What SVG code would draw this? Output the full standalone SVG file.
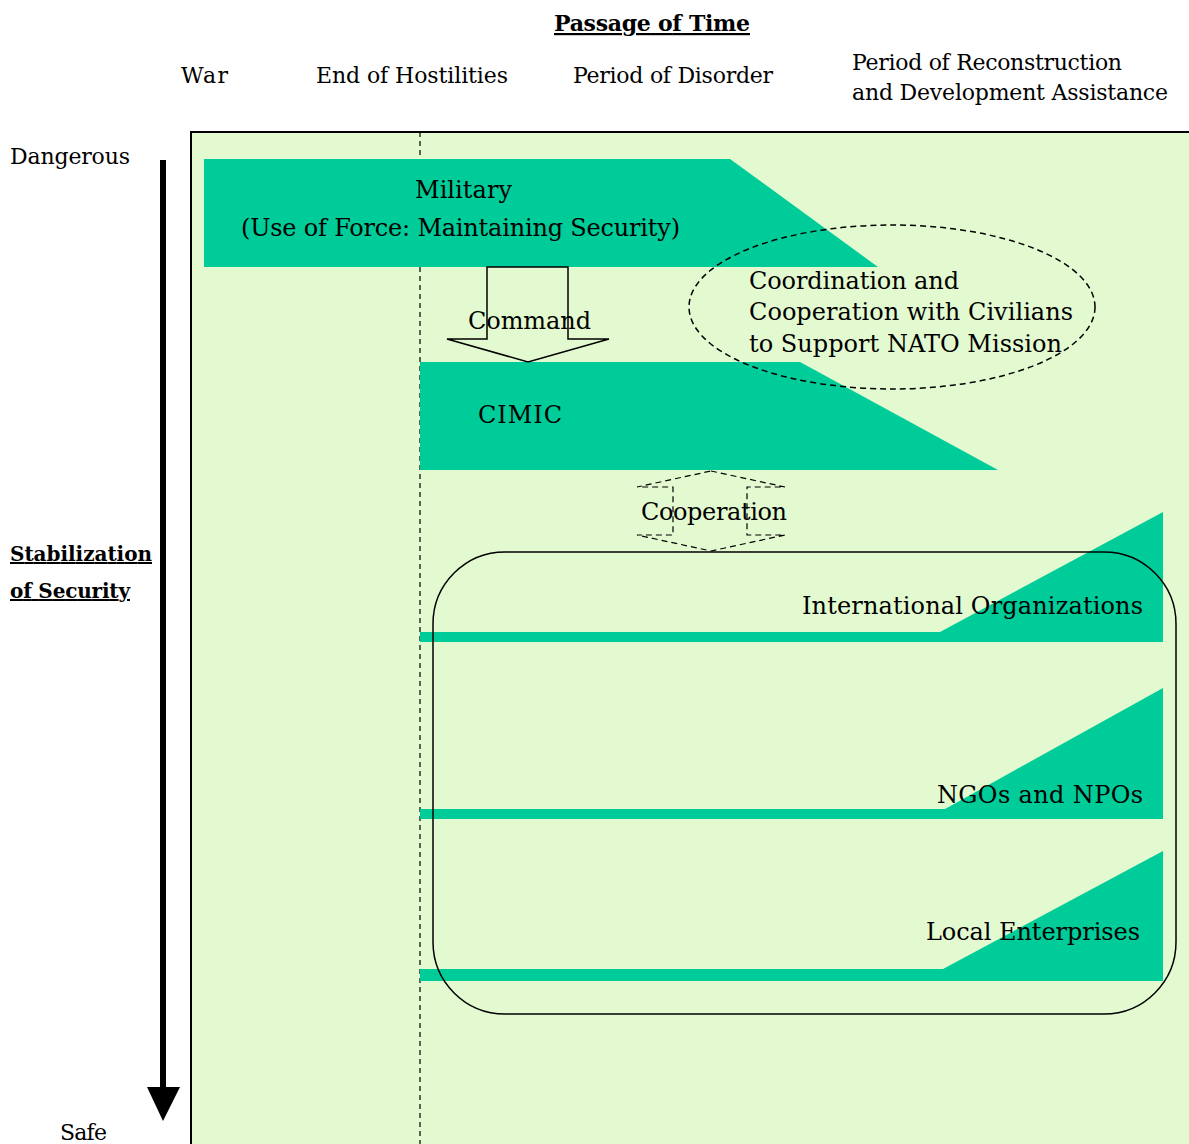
<svg xmlns="http://www.w3.org/2000/svg" width="1189" height="1144" viewBox="0 0 1189 1144">
<style>
text{font-family:"DejaVu Serif","Liberation Serif",serif;font-size:24px;fill:#000}
.h{font-size:22px}
.b{font-weight:bold;text-decoration:underline}
.g{fill:#00CC99}
.mid{text-anchor:middle}
.end{text-anchor:end}
</style>
<defs/>
<rect x="0" y="0" width="1189" height="1144" fill="#fff"/>
<g id="panel">
<rect x="191" y="132" width="1000" height="1014" fill="#E3FAD0" stroke="#000" stroke-width="2"/>
<line x1="420" y1="132" x2="420" y2="1144" stroke="#000" stroke-width="1.2" stroke-dasharray="5,4"/>
</g>
<g id="header">
<text x="652" y="31" class="h b mid" textLength="196">Passage of Time</text>
<text x="181" y="83" class="h" textLength="47">War</text>
<text x="316" y="83" class="h" textLength="192">End of Hostilities</text>
<text x="573" y="83" class="h" textLength="200">Period of Disorder</text>
<text x="852" y="70" class="h" textLength="270">Period of Reconstruction</text>
<text x="852" y="100" class="h" textLength="316">and Development Assistance</text>
</g>
<g id="axis">
<text x="10" y="164" class="h" textLength="120">Dangerous</text>
<line x1="163" y1="160" x2="163" y2="1090" stroke="#000" stroke-width="6"/>
<polygon points="147,1087 180,1087 163,1121" fill="#000"/>
<text x="10" y="561" class="h b" style="font-size:20px" textLength="142">Stabilization</text>
<text x="10" y="598" class="h b" style="font-size:20px" textLength="120">of Security</text>
<text x="60" y="1140" class="h" textLength="47">Safe</text>
</g>
<g id="military">
<polygon class="g" points="204,159 730,159 878,267 204,267"/>
<text x="415" y="198" textLength="97">Military</text>
<text x="241" y="236" textLength="439">(Use of Force: Maintaining Security)</text>
</g>
<g id="cimic">
<polygon class="g" points="420,362 800,362 998,470 420,470"/>
<text x="478" y="423" textLength="84">CIMIC</text>
</g>
<g id="coordination">
<ellipse cx="892" cy="307" rx="203" ry="82" fill="none" stroke="#000" stroke-width="1.5" stroke-dasharray="6,4"/>
<text x="749" y="289" textLength="210">Coordination and</text>
<text x="749" y="320" textLength="324">Cooperation with Civilians</text>
<text x="749" y="352" textLength="313">to Support NATO Mission</text>
</g>
<g id="international">
<polygon class="g" points="420,632 940,632 1163,512 1163,642 420,642"/>
<text x="802" y="614" textLength="341">International Organizations</text>
</g>
<g id="ngos">
<polygon class="g" points="420,809 945,809 1163,688 1163,819 420,819"/>
<text x="937" y="803" textLength="206">NGOs and NPOs</text>
</g>
<g id="local">
<polygon class="g" points="420,969 943,969 1163,851 1163,981 420,981"/>
<text x="926" y="940" textLength="214">Local Enterprises</text>
</g>
<g id="civil-group">
<rect x="433" y="552" width="743" height="462" rx="72" ry="72" fill="none" stroke="#000" stroke-width="1.5"/>
</g>
<g id="connectors">
<polygon points="487,267 568,267 568,339 609,339 528,362 447,339 487,339" fill="none" stroke="#000" stroke-width="1.5"/>
<text x="468" y="329" textLength="123">Command</text>
<polygon points="711,471 785,487 747,487 747,535 785,535 711,551 637,535 673,535 673,487 637,487" fill="none" stroke="#000" stroke-width="1.2" stroke-dasharray="6,4"/>
<text x="641" y="520" textLength="146">Cooperation</text>
</g>
</svg>
